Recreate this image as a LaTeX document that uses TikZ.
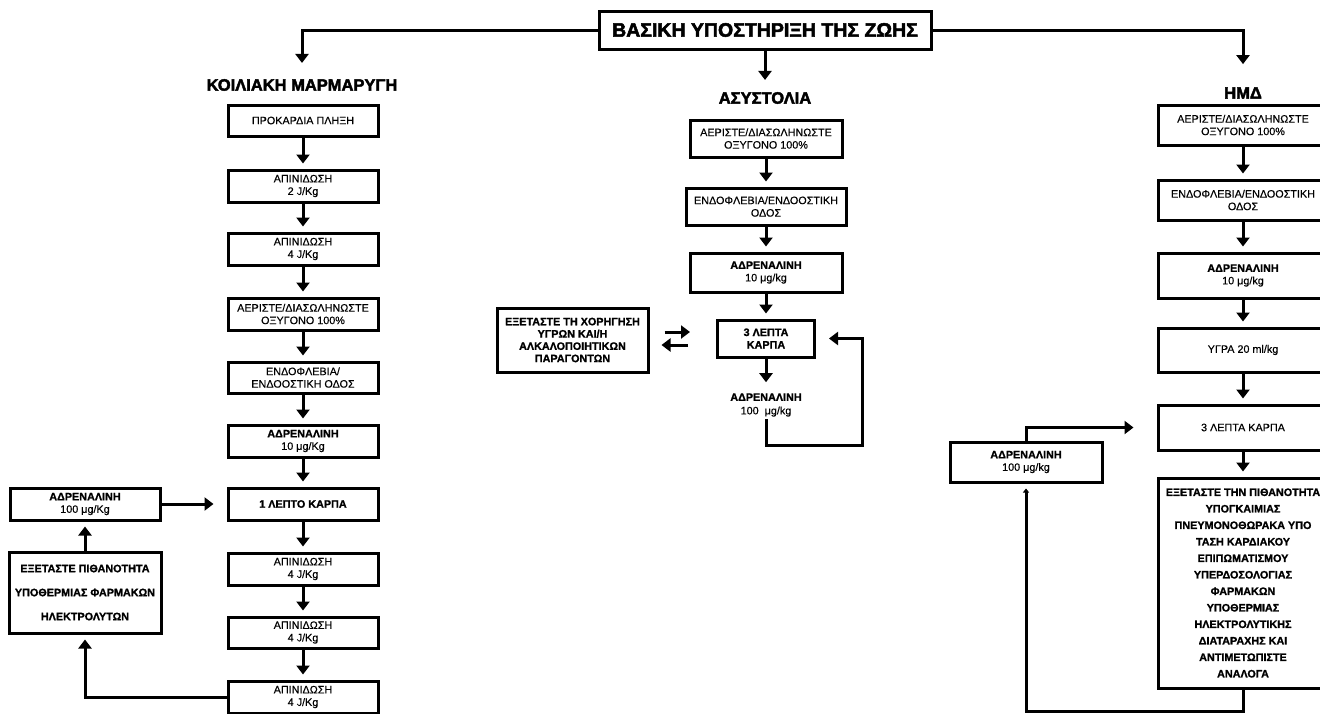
\documentclass[tikz,border=0pt]{standalone}
\usepackage{fontspec}
\setmainfont{Liberation Sans}[UprightFeatures={FakeBold=0.3},BoldFeatures={FakeBold=1.2}]
\newfontfamily\heavyfont{Liberation Sans}[BoldFeatures={FakeBold=2.5}]
\usetikzlibrary{arrows.meta}
\begin{document}
\begin{tikzpicture}  % ------ Basic life support ---------------
      [x=1pt,y=-1pt,
       box/.style 2 args={draw,line width=3pt,inner sep=0pt,align=center,
          minimum width=#1,minimum height=#2,font=\fontsize{10.8}{12.5}\selectfont},
       head/.style={inner sep=0pt,font=\fontsize{16.5}{18}\heavyfont\bfseries},
       arr/.style={line width=3pt,-{Triangle[width=13pt,length=9pt]},shorten >=5pt}]
    \useasboundingbox (0,0) rectangle (1320,713);

    \node[box={332pt}{38pt},font=\fontsize{19.5}{22}\heavyfont\bfseries] (title) at (765,30) {ΒΑΣΙΚΗ ΥΠΟΣΤΗΡΙΞΗ ΤΗΣ ΖΩΗΣ};
    \node[head] (kh) at (302,85) {ΚΟΙΛΙΑΚΗ ΜΑΡΜΑΡΥΓΗ};
    \node[head] (mh) at (765,98) {ΑΣΥΣΤΟΛΙΑ};
    \node[head] (rh) at (1243,93) {ΗΜΔ};

    % ventricular fibrillation
    \node[box={150pt}{31pt}] (kv1) at (303,120.5) {ΠΡΟΚΑΡΔΙΑ ΠΛΗΞΗ};
    \node[box={150pt}{32pt}] (kv2) at (303,186) {ΑΠΙΝΙΔΩΣΗ\\2 J/Kg};
    \node[box={150pt}{32pt}] (kv3) at (303,249) {ΑΠΙΝΙΔΩΣΗ\\4 J/Kg};
    \node[box={150pt}{32pt}] (kv4) at (303,314) {ΑΕΡΙΣΤΕ/ΔΙΑΣΩΛΗΝΩΣΤΕ\\ΟΞΥΓΟΝΟ 100\%};
    \node[box={150pt}{31pt}] (kv5) at (303,377.5) {ΕΝΔΟΦΛΕΒΙΑ/\\ΕΝΔΟΟΣΤΙΚΗ ΟΔΟΣ};
    \node[box={150pt}{32pt}] (kv6) at (303,441) {\textbf{ΑΔΡΕΝΑΛΙΝΗ}\\10 μg/Kg};
    \node[box={150pt}{32pt}] (kv7) at (303,504) {\textbf{1 ΛΕΠΤΟ ΚΑΡΠΑ}};
    \node[box={150pt}{32pt}] (kv8) at (303,569) {ΑΠΙΝΙΔΩΣΗ\\4 J/Kg};
    \node[box={150pt}{31pt}] (kv9) at (303,632.5) {ΑΠΙΝΙΔΩΣΗ\\4 J/Kg};
    \node[box={150pt}{32pt}] (kv10) at (303,697) {ΑΠΙΝΙΔΩΣΗ\\4 J/Kg};
    \node[box={150pt}{32pt}] (kl1) at (85,504) {\textbf{ΑΔΡΕΝΑΛΙΝΗ}\\100 μg/Kg};
    \node[box={152pt}{81pt},font=\fontsize{10.8}{24}\bfseries] (kl2) at (85,592.5)
        {ΕΞΕΤΑΣΤΕ ΠΙΘΑΝΟΤΗΤΑ\\ΥΠΟΘΕΡΜΙΑΣ ΦΑΡΜΑΚΩΝ\\ΗΛΕΚΤΡΟΛΥΤΩΝ};

    % asystole
    \node[box={152pt}{37pt}] (ma1) at (766,138.5) {ΑΕΡΙΣΤΕ/ΔΙΑΣΩΛΗΝΩΣΤΕ\\ΟΞΥΓΟΝΟ 100\%};
    \node[box={160pt}{37pt}] (ma2) at (766,206.5) {ΕΝΔΟΦΛΕΒΙΑ/ΕΝΔΟΟΣΤΙΚΗ\\ΟΔΟΣ};
    \node[box={152pt}{39pt}] (ma3) at (766,272.5) {\textbf{ΑΔΡΕΝΑΛΙΝΗ}\\10 μg/kg};
    \node[box={97pt}{37pt},font=\fontsize{10.8}{12.5}\bfseries] (ma4) at (766,338.5) {3 ΛΕΠΤΑ\\ΚΑΡΠΑ};
    \node[inner sep=2pt,align=center,font=\fontsize{10.8}{13.5}\selectfont] (ma5) at (766,405)
        {\textbf{ΑΔΡΕΝΑΛΙΝΗ}\\100~~μg/kg};
    \node[box={151pt}{64pt},font=\fontsize{10.8}{12.3}\bfseries] (mb) at (572.5,340)
        {ΕΞΕΤΑΣΤΕ ΤΗ ΧΟΡΗΓΗΣΗ\\ΥΓΡΩΝ ΚΑΙ/Η\\ΑΛΚΑΛΟΠΟΙΗΤΙΚΩΝ\\ΠΑΡΑΓΟΝΤΩΝ};
    \coordinate (mloop) at (862,445);

    % electromechanical dissociation
    \node[box={170pt}{40pt}] (ra1) at (1243,125) {ΑΕΡΙΣΤΕ/ΔΙΑΣΩΛΗΝΩΣΤΕ\\ΟΞΥΓΟΝΟ 100\%};
    \node[box={170pt}{40pt}] (ra2) at (1243,200) {ΕΝΔΟΦΛΕΒΙΑ/ΕΝΔΟΟΣΤΙΚΗ\\ΟΔΟΣ};
    \node[box={170pt}{45pt}] (ra3) at (1243,275.5) {\textbf{ΑΔΡΕΝΑΛΙΝΗ}\\10 μg/kg};
    \node[box={170pt}{44pt}] (ra4) at (1243,350) {ΥΓΡΑ 20 ml/kg};
    \node[box={170pt}{45pt}] (ra5) at (1243,427.5) {3 ΛΕΠΤΑ ΚΑΡΠΑ};
    \node[box={170pt}{210pt},font=\fontsize{10.8}{16.5}\bfseries] (ra6) at (1243,583)
        {ΕΞΕΤΑΣΤΕ ΤΗΝ ΠΙΘΑΝΟΤΗΤΑ\\ΥΠΟΓΚΑΙΜΙΑΣ\\ΠΝΕΥΜΟΝΟΘΩΡΑΚΑ ΥΠΟ\\ΤΑΣΗ ΚΑΡΔΙΑΚΟΥ\\
         ΕΠΙΠΩΜΑΤΙΣΜΟΥ\\ΥΠΕΡΔΟΣΟΛΟΓΙΑΣ\\ΦΑΡΜΑΚΩΝ\\ΥΠΟΘΕΡΜΙΑΣ\\ΗΛΕΚΤΡΟΛΥΤΙΚΗΣ\\
         ΔΙΑΤΑΡΑΧΗΣ ΚΑΙ\\ΑΝΤΙΜΕΤΩΠΙΣΤΕ\\ΑΝΑΛΟΓΑ};
    \node[box={152pt}{40pt}] (rb) at (1026,462) {\textbf{ΑΔΡΕΝΑΛΙΝΗ}\\100 μg/kg};
    \coordinate (rbase) at (1100,711);

    \draw[arr,shorten >=16pt] (title.west) -| (kh.north);
    \draw[arr,shorten >=12pt] (title.south) -- (mh.north);
    \draw[arr,shorten >=23pt] (title.east) -| (rh.north);

    \foreach \a/\b in {kv1/kv2,kv2/kv3,kv3/kv4,kv4/kv5,kv5/kv6,kv6/kv7,kv7/kv8,kv8/kv9,kv9/kv10,
                       ma1/ma2,ma2/ma3,ma3/ma4,ra1/ra2,ra2/ra3,ra3/ra4,ra4/ra5,ra5/ra6}
      \draw[arr] (\a) -- (\b);

    \draw[arr] (kl2) -- (kl1);
    \draw[arr,shorten >=13pt] (kl1) -- (kv7);
    \draw[arr] (kv10.west) -| (kl2.south);

    \draw[arr,shorten >=9pt] (ma4) -- (ma5);
    \draw[arr,shorten >=13pt] (ma5.south) |- (mloop) |- (ma4.east);
    \draw[arr,shorten <=15pt,shorten >=26pt] ([yshift=8pt]mb.east) -- ([yshift=8pt]mb.east -| ma4.west);
    \draw[arr,shorten <=28pt,shorten >=12pt] ([yshift=-5pt]mb.east -| ma4.west) -- ([yshift=-5pt]mb.east);

    \draw[arr,shorten >=23pt] (rb.north) |- (ra5.west);
    \draw[arr,-{Triangle[width=6pt,length=4pt]}] (ra6.south) |- (rbase) -| (rb.south);
\end{tikzpicture}
\end{document}
